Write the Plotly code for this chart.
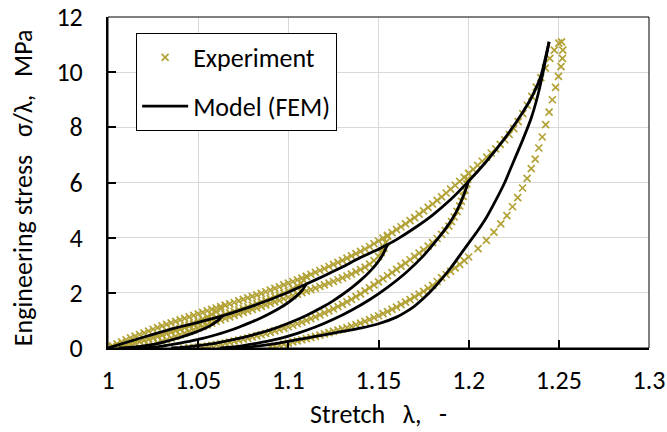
import plotly.graph_objects as go

# ---------------- Experimental data (stretch, engineering stress in MPa) ----------------
# primary loading curve
exp_load_x = [1.0000, 1.0025, 1.0050, 1.0075, 1.0100, 1.0125, 1.0150, 1.0175, 1.0200, 1.0225,
              1.0250, 1.0275, 1.0300, 1.0325, 1.0350, 1.0375, 1.0400, 1.0425, 1.0450, 1.0475,
              1.0500, 1.0525, 1.0550, 1.0575, 1.0600, 1.0625, 1.0650, 1.0675, 1.0700, 1.0725,
              1.0750, 1.0775, 1.0800, 1.0825, 1.0850, 1.0875, 1.0900, 1.0925, 1.0950, 1.0975,
              1.1000, 1.1025, 1.1050, 1.1075, 1.1100, 1.1125, 1.1150, 1.1175, 1.1200, 1.1225,
              1.1250, 1.1275, 1.1300, 1.1325, 1.1350, 1.1375, 1.1400, 1.1425, 1.1450, 1.1475,
              1.1500, 1.1525, 1.1550, 1.1575, 1.1600, 1.1625, 1.1650, 1.1675, 1.1700, 1.1725,
              1.1750, 1.1775, 1.1800, 1.1825, 1.1850, 1.1875, 1.1900, 1.1925, 1.1950, 1.1975,
              1.2000, 1.2025, 1.2050, 1.2075, 1.2100, 1.2125, 1.2150, 1.2175, 1.2200, 1.2225,
              1.2250, 1.2275, 1.2300, 1.2325, 1.2350, 1.2375, 1.2400, 1.2425, 1.2450, 1.2475,
              1.2500]
exp_load_y = [0.000, 0.075, 0.150, 0.225, 0.300, 0.365, 0.430, 0.490, 0.550, 0.615,
              0.680, 0.740, 0.800, 0.855, 0.910, 0.965, 1.020, 1.075, 1.130, 1.185,
              1.240, 1.295, 1.350, 1.400, 1.450, 1.500, 1.550, 1.600, 1.650, 1.705,
              1.760, 1.815, 1.870, 1.925, 1.980, 2.040, 2.100, 2.160, 2.220, 2.285,
              2.350, 2.410, 2.470, 2.535, 2.600, 2.670, 2.740, 2.810, 2.880, 2.955,
              3.030, 3.105, 3.180, 3.260, 3.340, 3.420, 3.500, 3.590, 3.680, 3.780,
              3.880, 3.980, 4.080, 4.185, 4.290, 4.395, 4.500, 4.615, 4.730, 4.850,
              4.970, 5.095, 5.220, 5.350, 5.480, 5.620, 5.760, 5.900, 6.040, 6.185,
              6.330, 6.475, 6.620, 6.770, 6.920, 7.070, 7.220, 7.380, 7.550, 7.740,
              7.950, 8.210, 8.500, 8.800, 9.120, 9.460, 9.800, 10.150, 10.500, 10.800,
              11.050]

# unloading from the five maximum stretches
exp_un1_x = [1.0650, 1.0625, 1.0600, 1.0575, 1.0550, 1.0525, 1.0500, 1.0475, 1.0450, 1.0425,
             1.0400, 1.0375, 1.0350, 1.0325, 1.0300, 1.0275, 1.0250, 1.0225, 1.0200, 1.0175,
             1.0150, 1.0125, 1.0100, 1.0075, 1.0050, 1.0025]
exp_un1_y = [1.550, 1.430, 1.320, 1.220, 1.130, 1.050, 0.970, 0.900, 0.830, 0.765,
             0.700, 0.640, 0.580, 0.525, 0.470, 0.420, 0.370, 0.325, 0.280, 0.235,
             0.190, 0.150, 0.110, 0.075, 0.040, 0.010]

exp_un2_x = [1.1100, 1.1085, 1.1070, 1.1050, 1.1025, 1.1000, 1.0975, 1.0950, 1.0925, 1.0900,
             1.0875, 1.0850, 1.0825, 1.0800, 1.0775, 1.0750, 1.0725, 1.0700, 1.0675, 1.0650,
             1.0625, 1.0600, 1.0575, 1.0550, 1.0525, 1.0500, 1.0475, 1.0450, 1.0425, 1.0400,
             1.0375, 1.0350, 1.0325, 1.0300, 1.0275, 1.0250, 1.0225, 1.0200, 1.0175, 1.0150,
             1.0125, 1.0100, 1.0080, 1.0060]
exp_un2_y = [2.600, 2.450, 2.350, 2.250, 2.150, 2.060, 1.990, 1.920, 1.855, 1.790,
             1.730, 1.670, 1.610, 1.550, 1.495, 1.440, 1.385, 1.330, 1.275, 1.220,
             1.165, 1.110, 1.055, 1.000, 0.945, 0.890, 0.840, 0.790, 0.735, 0.680,
             0.630, 0.580, 0.530, 0.480, 0.430, 0.380, 0.330, 0.280, 0.230, 0.180,
             0.130, 0.080, 0.040, 0.000]

exp_un3_x = [1.1550, 1.1540, 1.1530, 1.1515, 1.1500, 1.1475, 1.1450, 1.1425, 1.1400, 1.1375,
             1.1350, 1.1325, 1.1300, 1.1275, 1.1250, 1.1225, 1.1200, 1.1175, 1.1150, 1.1125,
             1.1100, 1.1075, 1.1050, 1.1025, 1.1000, 1.0975, 1.0950, 1.0925, 1.0900, 1.0875,
             1.0850, 1.0825, 1.0800, 1.0775, 1.0750, 1.0725, 1.0700, 1.0675, 1.0650, 1.0625,
             1.0600, 1.0575, 1.0550, 1.0525, 1.0500, 1.0475, 1.0450, 1.0425, 1.0400, 1.0375,
             1.0350, 1.0325, 1.0300, 1.0275, 1.0250, 1.0225]
exp_un3_y = [4.050, 3.820, 3.620, 3.460, 3.320, 3.170, 3.040, 2.930, 2.840, 2.760,
             2.680, 2.610, 2.540, 2.475, 2.410, 2.350, 2.290, 2.230, 2.170, 2.115,
             2.060, 2.005, 1.950, 1.895, 1.840, 1.785, 1.730, 1.675, 1.620, 1.565,
             1.510, 1.455, 1.400, 1.345, 1.290, 1.235, 1.180, 1.125, 1.070, 1.015,
             0.960, 0.900, 0.840, 0.780, 0.720, 0.660, 0.600, 0.540, 0.480, 0.420,
             0.360, 0.300, 0.240, 0.175, 0.110, 0.040]

exp_un4_x = [1.2000, 1.1995, 1.1990, 1.1980, 1.1970, 1.1960, 1.1950, 1.1935, 1.1920, 1.1905,
             1.1890, 1.1870, 1.1850, 1.1825, 1.1800, 1.1775, 1.1750, 1.1725, 1.1700, 1.1675,
             1.1650, 1.1625, 1.1600, 1.1575, 1.1550, 1.1525, 1.1500, 1.1475, 1.1450, 1.1425,
             1.1400, 1.1375, 1.1350, 1.1325, 1.1300, 1.1275, 1.1250, 1.1225, 1.1200, 1.1175,
             1.1150, 1.1125, 1.1100, 1.1075, 1.1050, 1.1025, 1.1000, 1.0975, 1.0950, 1.0925,
             1.0900, 1.0875, 1.0850, 1.0825, 1.0800, 1.0775, 1.0750, 1.0725, 1.0700, 1.0675,
             1.0650, 1.0625, 1.0600, 1.0575, 1.0550, 1.0525, 1.0500, 1.0475, 1.0450, 1.0420]
exp_un4_y = [6.330, 6.120, 5.950, 5.720, 5.500, 5.320, 5.150, 4.950, 4.750, 4.580,
             4.420, 4.260, 4.120, 3.970, 3.820, 3.690, 3.560, 3.440, 3.320, 3.200,
             3.080, 2.965, 2.850, 2.735, 2.620, 2.510, 2.400, 2.290, 2.180, 2.070,
             1.960, 1.860, 1.760, 1.670, 1.580, 1.500, 1.420, 1.345, 1.270, 1.200,
             1.130, 1.065, 1.000, 0.940, 0.880, 0.825, 0.770, 0.720, 0.670, 0.620,
             0.570, 0.525, 0.480, 0.440, 0.400, 0.360, 0.320, 0.285, 0.250, 0.215,
             0.180, 0.150, 0.120, 0.095, 0.070, 0.050, 0.030, 0.020, 0.010, 0.000]

exp_un5_x = [1.2515, 1.2522, 1.2520, 1.2512, 1.2498, 1.2482, 1.2464, 1.2446, 1.2427, 1.2408,
             1.2389, 1.2369, 1.2347, 1.2324, 1.2299, 1.2272, 1.2243, 1.2212, 1.2178, 1.2140,
             1.2098, 1.2052, 1.2000, 1.1975, 1.1950, 1.1925, 1.1900, 1.1875, 1.1850, 1.1825,
             1.1800, 1.1775, 1.1750, 1.1725, 1.1700, 1.1675, 1.1650, 1.1625, 1.1600, 1.1575,
             1.1550, 1.1525, 1.1500, 1.1475, 1.1450, 1.1425, 1.1400, 1.1375, 1.1350, 1.1325,
             1.1300, 1.1275, 1.1250, 1.1225, 1.1200, 1.1175, 1.1150, 1.1125, 1.1100, 1.1075,
             1.1050, 1.1025, 1.1000, 1.0975, 1.0950, 1.0925, 1.0900]
exp_un5_y = [11.100, 10.800, 10.500, 10.200, 9.850, 9.450, 9.000, 8.550, 8.100, 7.650,
             7.250, 6.850, 6.500, 6.150, 5.800, 5.450, 5.120, 4.800, 4.500, 4.200,
             3.900, 3.600, 3.300, 3.165, 3.030, 2.905, 2.780, 2.665, 2.550, 2.410,
             2.270, 2.160, 2.050, 1.950, 1.850, 1.755, 1.660, 1.570, 1.480, 1.400,
             1.320, 1.245, 1.170, 1.100, 1.030, 0.965, 0.900, 0.845, 0.790, 0.740,
             0.690, 0.645, 0.600, 0.555, 0.510, 0.465, 0.420, 0.380, 0.340, 0.300,
             0.260, 0.220, 0.180, 0.140, 0.100, 0.065, 0.030]

# ---------------- FEM model (stretch, engineering stress in MPa) ----------------
fem_load_x = [1.000, 1.010, 1.020, 1.030, 1.040, 1.050, 1.060, 1.070, 1.080, 1.090,
              1.100, 1.110, 1.120, 1.130, 1.140, 1.150, 1.155, 1.160, 1.170, 1.180,
              1.190, 1.200, 1.210, 1.220, 1.230, 1.235, 1.240, 1.2446]
fem_load_y = [0.00, 0.20, 0.40, 0.59, 0.77, 0.93, 1.10, 1.30, 1.52, 1.76,
              2.02, 2.32, 2.62, 2.94, 3.28, 3.58, 3.75, 3.93, 4.35, 4.82,
              5.38, 6.05, 6.78, 7.60, 8.55, 9.10, 9.85, 11.10]

fem_un1_x = [1.0635, 1.061, 1.057, 1.052, 1.046, 1.040, 1.033, 1.026, 1.018, 1.010, 1.006]
fem_un1_y = [1.17, 1.00, 0.82, 0.66, 0.51, 0.38, 0.25, 0.14, 0.06, 0.01, 0.00]

fem_un2_x = [1.110, 1.1075, 1.1045, 1.100, 1.095, 1.090, 1.085, 1.080, 1.075, 1.070,
             1.065, 1.060, 1.055, 1.050, 1.045, 1.040, 1.035, 1.030, 1.025, 1.020, 1.016]
fem_un2_y = [2.32, 2.08, 1.88, 1.65, 1.44, 1.26, 1.10, 0.95, 0.82, 0.69,
             0.58, 0.48, 0.39, 0.31, 0.24, 0.18, 0.12, 0.07, 0.03, 0.01, 0.00]

fem_un3_x = [1.155, 1.1525, 1.149, 1.145, 1.140, 1.135, 1.130, 1.125, 1.120, 1.110,
             1.100, 1.090, 1.080, 1.070, 1.060, 1.050, 1.045, 1.040, 1.035]
fem_un3_y = [3.75, 3.40, 3.06, 2.76, 2.45, 2.18, 1.94, 1.72, 1.52, 1.18,
             0.90, 0.66, 0.47, 0.31, 0.18, 0.09, 0.05, 0.02, 0.00]

fem_un4_x = [1.200, 1.197, 1.193, 1.188, 1.183, 1.175, 1.165, 1.155, 1.145, 1.135,
             1.125, 1.115, 1.105, 1.095, 1.085, 1.075, 1.068, 1.062]
fem_un4_y = [6.05, 5.50, 4.92, 4.40, 3.97, 3.35, 2.72, 2.20, 1.75, 1.37,
             1.04, 0.76, 0.53, 0.34, 0.20, 0.09, 0.03, 0.00]

fem_un5_x = [1.2446, 1.2419, 1.2385, 1.2345, 1.2297, 1.2245, 1.220, 1.215, 1.210, 1.205,
             1.200, 1.195, 1.190, 1.185, 1.180, 1.175, 1.170, 1.165, 1.160, 1.150,
             1.140, 1.130, 1.120, 1.110, 1.100, 1.090, 1.080, 1.075, 1.070]
fem_un5_y = [11.10, 10.20, 9.20, 8.30, 7.50, 6.70, 6.00, 5.35, 4.75, 4.25,
             3.80, 3.35, 2.90, 2.50, 2.13, 1.80, 1.52, 1.30, 1.12, 0.88,
             0.72, 0.60, 0.48, 0.36, 0.24, 0.13, 0.05, 0.02, 0.00]

# ---------------- axis ticks ----------------
x_tick_vals = [1.0, 1.05, 1.1, 1.15, 1.2, 1.25, 1.3]
x_tick_text = ["1", "1.05", "1.1", "1.15", "1.2", "1.25", "1.3"]
y_tick_vals = [0, 2, 4, 6, 8, 10, 12]
y_tick_text = ["0", "2", "4", "6", "8", "10", "12"]

OLIVE = "#B3A236"
FONT = "Carlito, Calibri, Lato, sans-serif"
FS = 26


def join_branches(branches):
    """Concatenate curve branches, separated by gaps."""
    xs, ys = [], []
    for bx, by in branches:
        xs += list(bx) + [None]
        ys += list(by) + [None]
    return xs, ys


exp_x, exp_y = join_branches([
    (exp_load_x, exp_load_y), (exp_un1_x, exp_un1_y), (exp_un2_x, exp_un2_y),
    (exp_un3_x, exp_un3_y), (exp_un4_x, exp_un4_y), (exp_un5_x, exp_un5_y)])
fem_x, fem_y = join_branches([
    (fem_load_x, fem_load_y), (fem_un1_x, fem_un1_y), (fem_un2_x, fem_un2_y),
    (fem_un3_x, fem_un3_y), (fem_un4_x, fem_un4_y), (fem_un5_x, fem_un5_y)])

fig = go.Figure()
fig.add_trace(go.Scatter(
    x=exp_x, y=exp_y, mode="markers", name="Experiment", legendgroup="exp",
    marker=dict(symbol="x-thin", size=7, color=OLIVE, line=dict(color=OLIVE, width=1.7)),
))
fig.add_trace(go.Scatter(
    x=fem_x, y=fem_y, mode="lines", name="Model (FEM)", legendgroup="fem",
    line=dict(color="black", width=2.8, shape="spline", smoothing=0.5),
    connectgaps=False,
))

fig.update_layout(
    width=667, height=432,
    margin=dict(l=108, r=18, t=17, b=84),
    paper_bgcolor="white", plot_bgcolor="white",
    font=dict(family=FONT, size=FS, color="black"),
    showlegend=True,
    legend=dict(
        x=0.052, y=0.952, xanchor="left", yanchor="top",
        bgcolor="white", bordercolor="black", borderwidth=1,
        font=dict(family=FONT, size=FS, color="black"),
        traceorder="grouped", tracegroupgap=12, itemwidth=46,
    ),
    xaxis=dict(
        range=[1.0, 1.3], tickvals=x_tick_vals, ticktext=x_tick_text,
        showgrid=True, gridcolor="#d9d9d9", gridwidth=1, zeroline=False,
        showline=True, linecolor="black", linewidth=2,
        ticks="inside", ticklen=8, tickwidth=1.5, tickcolor="black",
        ticklabelstandoff=8, automargin=False,
        title=dict(text="Stretch\u00a0\u00a0 λ,\u00a0\u00a0 -", standoff=10,
                   font=dict(family=FONT, size=FS)),
    ),
    yaxis=dict(
        range=[0, 12], tickvals=y_tick_vals, ticktext=y_tick_text,
        showgrid=True, gridcolor="#d9d9d9", gridwidth=1, zeroline=False,
        showline=True, linecolor="black", linewidth=2,
        ticks="inside", ticklen=8, tickwidth=1.5, tickcolor="black",
        ticklabelstandoff=18, automargin=False,
    ),
    annotations=[dict(
        text="Engineering stress\u00a0\u00a0 σ/λ,\u00a0\u00a0 MPa", textangle=-90,
        xref="paper", yref="paper", x=-0.157, y=0.483,
        xanchor="center", yanchor="middle", showarrow=False,
        font=dict(family=FONT, size=FS, color="black"),
    )],
    shapes=[dict(type="rect", xref="paper", yref="paper", x0=0, y0=0, x1=1, y1=1,
                 line=dict(color="black", width=1), layer="above")],
)

fig.write_html("out.html")
